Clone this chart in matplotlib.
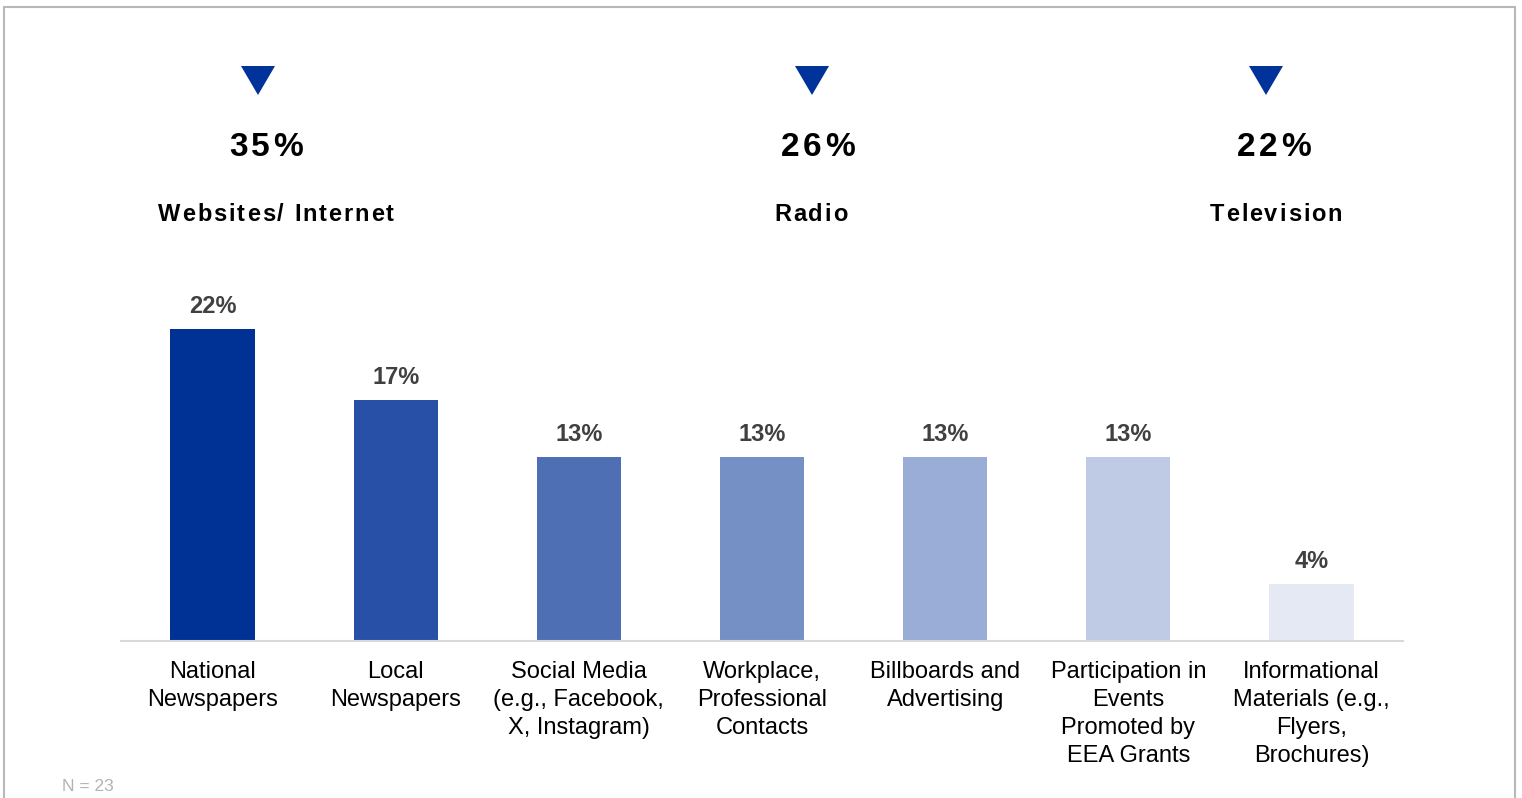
import matplotlib.pyplot as plt
from matplotlib.font_manager import FontProperties
from matplotlib.patches import Polygon, Rectangle

W, H, DPI = 1522, 798, 100
FONT = 'Liberation Sans'

categories = [
    'National\nNewspapers',
    'Local\nNewspapers',
    'Social Media\n(e.g., Facebook,\nX, Instagram)',
    'Workplace,\nProfessional\nContacts',
    'Billboards and\nAdvertising',
    'Participation in\nEvents\nPromoted by\nEEA Grants',
    'Informational\nMaterials (e.g.,\nFlyers,\nBrochures)',
]
values = [22, 17, 13, 13, 13, 13, 4]
bar_colors = ['#003296', '#2850a6', '#4f6fb5', '#7490c5', '#9aadd6', '#bfcbe5', '#e4e9f4']

top_labels = ['Websites/ Internet', 'Radio', 'Television']
top_values = [35, 26, 22]
sample_note = 'N = 23'


# pixel helpers
def fx(px):
    return px / W


def fy(py):
    return 1 - py / H


def advance(renderer, ch, size, weight):
    # advance width in pixels, measured between two bars so blanks count too
    fp = FontProperties(family=FONT, weight=weight, size=size)
    w1 = renderer.get_text_width_height_descent('|' + ch + '|', fp, ismath=False)[0]
    w0 = renderer.get_text_width_height_descent('||', fp, ismath=False)[0]
    return w1 - w0


def spaced_text(fig, cx, base_y, s, size, gap, weight='bold', color='black'):
    # draw a string one glyph at a time so the letters can be tracked out
    renderer = fig.canvas.get_renderer()
    widths = [advance(renderer, c, size, weight) for c in s]
    total = sum(widths) + gap * (len(s) - 1)
    x = cx - total / 2
    for c, w in zip(s, widths):
        if c != ' ':
            fig.text(fx(x + w / 2), fy(base_y), c, ha='center', va='baseline',
                     fontsize=size, fontweight=weight, family=FONT, color=color)
        x += w + gap


fig = plt.figure(figsize=(W / DPI, H / DPI), dpi=DPI)
plt.rcParams['font.family'] = FONT

# outer frame
fig.add_artist(Rectangle((fx(3.7), -0.05), fx(1515 - 3.7), fy(6.7) + 0.05,
                         transform=fig.transFigure, fill=False,
                         edgecolor='#b8b8b8', lw=1.5, clip_on=False))

# highlighted top three channels
arrow_x = [258, 812, 1266]
value_x = [266, 818, 1274]
label_x = [276, 811, 1276]
for ax_, vx, lx, v, lab in zip(arrow_x, value_x, label_x, top_values, top_labels):
    fig.add_artist(Polygon([(fx(ax_ - 17), fy(66)), (fx(ax_ + 17), fy(66)), (fx(ax_), fy(95))],
                           closed=True, transform=fig.transFigure,
                           facecolor='#003399', edgecolor='none'))
    spaced_text(fig, vx, 156, f'{v}%', 24, 3.5)
    spaced_text(fig, lx, 220.5, lab, 17, 1.9)

# bar chart
px_per_unit = 14.18
ax = fig.add_axes([fx(121), 157 / H, 1282 / W, 25 * px_per_unit / H])
x = range(len(values))
ax.bar(x, values, width=0.46, color=bar_colors)
ax.set_xlim(-0.5, len(values) - 0.5)
ax.set_ylim(0, 25)

for i, v in enumerate(values):
    ax.annotate(f'{v}%', (i, v), xytext=(0, 16), textcoords='offset pixels',
                ha='center', va='baseline', fontsize=17, fontweight='bold',
                color='#404040')

ax.set_xticks(list(x))
ax.set_xticklabels(categories, fontsize=17, linespacing=1.36, color='black')
ax.tick_params(axis='x', length=0, pad=14.5)
ax.set_yticks([])
for side in ['left', 'right', 'top']:
    ax.spines[side].set_visible(False)
ax.spines['bottom'].set_color('#d9d9d9')
ax.spines['bottom'].set_linewidth(1.5)

fig.text(fx(62), fy(791), sample_note, va='baseline', fontsize=12.5, color='#b3b3b3')

fig.savefig('out.png', dpi=DPI)
